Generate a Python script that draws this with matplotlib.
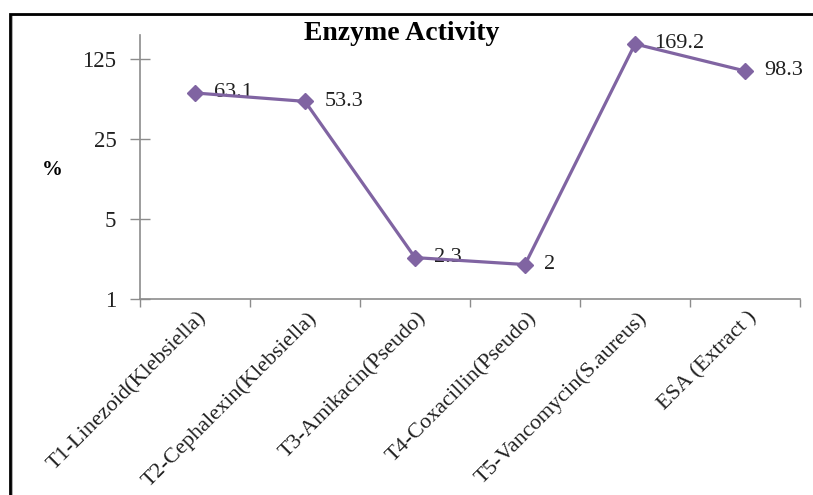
import matplotlib
matplotlib.use("Agg")
import matplotlib.pyplot as plt
from matplotlib.patches import Rectangle
import numpy as np

# data
categories = ["T1-Linezoid(Klebsiella)", "T2-Cephalexin(Klebsiella)",
              "T3-Amikacin(Pseudo)", "T4-Coxacillin(Pseudo)",
              "T5-Vancomycin(S.aureus)", "ESA (Extract )"]
activity = [63.1, 53.3, 2.3, 2, 169.2, 98.3]
label_text = ["63.1", "53.3", "2.3", "2", "169.2", "98.3"]
y_ticks = [1, 5, 25, 125]

color = '#8064A2'
axis_gray = '#8c8c8c'
W, H = 813, 495

plt.rcParams['font.family'] = ['Liberation Serif', 'DejaVu Serif']

fig = plt.figure(figsize=(W / 100, H / 100), dpi=100)
ax = fig.add_axes([140 / W, 1 - 299 / H, 660 / W, 264 / H])

x = np.arange(len(categories))
ax.plot(x, activity, color=color, lw=2.3, marker='D', markersize=8,
        markeredgecolor=color, markerfacecolor=color, clip_on=False, zorder=3)

for xi, yi, t in zip(x, activity, label_text):
    ax.annotate(t, (xi, yi), xytext=(14, 0), textcoords='offset points',
                ha='left', va='center', fontsize=16, color='#202020', zorder=2)

ax.set_yscale('log', base=5)
ax.set_ylim(1, 5 ** 3.3)
ax.set_yticks(y_ticks)
ax.set_yticklabels([str(v) for v in y_ticks])
ax.yaxis.set_minor_locator(matplotlib.ticker.NullLocator())
ax.set_xlim(-0.5, len(categories) - 0.5)

# ticks between categories on x
ax.set_xticks(np.arange(len(categories) + 1) - 0.5)
ax.set_xticklabels([])
ax.tick_params(axis='x', direction='out', length=6, color=axis_gray, width=1)
ax.tick_params(axis='y', direction='inout', length=14, color=axis_gray, width=1,
               labelsize=16.5, pad=10, labelcolor='#202020')
for xi, c in zip(x, categories):
    ax.text(xi + 0.02, -0.035, c, transform=ax.get_xaxis_transform(),
            rotation=45, ha='right', va='top', rotation_mode='anchor',
            fontsize=16, color='#202020')

for s in ['top', 'right']:
    ax.spines[s].set_visible(False)
for s in ['left', 'bottom']:
    ax.spines[s].set_color(axis_gray)
    ax.spines[s].set_linewidth(1.2)

ax.set_ylabel('%', rotation=0, fontsize=15, fontweight='bold', labelpad=0,
              va='center')
ax.yaxis.set_label_coords((52 - 140) / 660, (299 - 170) / 264)

fig.text(402 / W, 1 - 33 / H, 'Enzyme Activity', ha='center', va='center',
         fontsize=20, fontweight='bold')

# outer frame like the pasted chart box
fig.patches.append(Rectangle((12 / W, -0.1), 1.2, 1.1 - 15 / H,
                             transform=fig.transFigure, fill=False,
                             edgecolor='#a0a0a0', lw=1.2))
fig.patches.append(Rectangle((10 / W, -0.1), 1.2, 1.1 - 14 / H,
                             transform=fig.transFigure, fill=False,
                             edgecolor='black', lw=2))

fig.savefig('out.png', dpi=100)
